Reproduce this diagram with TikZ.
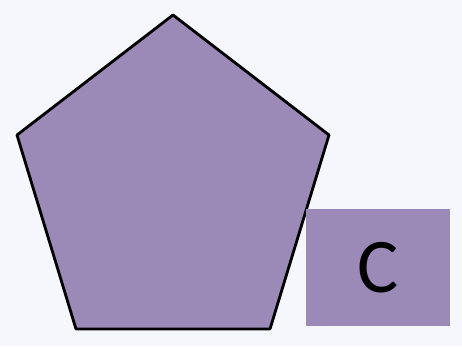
\documentclass[tikz,border=0pt]{standalone}
\usepackage{fontspec}
\setmainfont{Carlito}
\usepackage{xcolor}
\usetikzlibrary{calc}
\definecolor{bgcol}{HTML}{F6F7FC}
\definecolor{lilac}{HTML}{9B89B7}

\begin{document}
\begin{tikzpicture}[
  x=0.02cm,
  y=-0.02cm,
  line cap=round,
  line join=round,
  every node/.style={font=\fontsize{44}{46}\selectfont}
]
  % Background and bounding box
  \fill[bgcol] (0,0) rectangle (462,346);
  \useasboundingbox (0,0) rectangle (462,346);

  % The pentagon
  \coordinate (p1) at (173, 15);
  \coordinate (p2) at (329,135);
  \coordinate (p3) at (270,329);
  \coordinate (p4) at ( 76,329);
  \coordinate (p5) at ( 17,135);

  \filldraw[fill=lilac, draw=black, line width=1.6pt] (p1) -- (p2) -- (p3) -- (p4) -- (p5) -- cycle;

  % The box
  \node[fill=lilac, minimum width=2.88cm, minimum height=2.34cm, inner sep=0pt] (box) at (378,267.5) {C};
\end{tikzpicture}
\end{document}
